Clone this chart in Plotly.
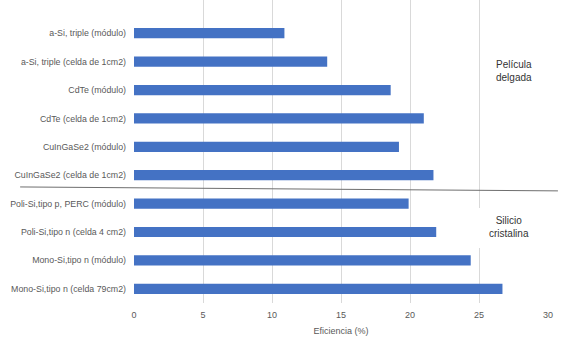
import plotly.graph_objects as go

categories = [
    "Mono-Si,tipo n (celda 79cm2)",
    "Mono-Si,tipo n (módulo)",
    "Poli-Si,tipo n (celda 4 cm2)",
    "Poli-Si,tipo p, PERC (módulo)",
    "CuInGaSe2 (celda de 1cm2)",
    "CuInGaSe2 (módulo)",
    "CdTe (celda de 1cm2)",
    "CdTe (módulo)",
    "a-Si, triple (celda de 1cm2)",
    "a-Si, triple (módulo)",
]
efficiency = [26.7, 24.4, 21.9, 19.9, 21.7, 19.2, 21.0, 18.6, 14.0, 10.9]
x_ticks = [0, 5, 10, 15, 20, 25, 30]

FONT = "Liberation Sans"
GREY = "#595959"

fig = go.Figure()
fig.add_trace(go.Bar(
    y=categories, x=efficiency, orientation="h",
    marker=dict(color="#4472C4", line=dict(width=0)),
    width=0.36, hoverinfo="skip",
))

fig.update_layout(
    width=578, height=338,
    margin=dict(l=134, r=30, t=0, b=35),
    paper_bgcolor="white", plot_bgcolor="white",
    showlegend=False,
    font=dict(family=FONT, size=9, color=GREY),
    xaxis=dict(
        range=[0, 30], tickvals=x_ticks, showgrid=True, automargin=False,
        gridcolor="#d9d9d9", gridwidth=1, zeroline=False,
        showline=False, ticks="", tickfont=dict(size=9, color=GREY),
        ticklabelstandoff=5,
        title=dict(text="Eficiencia (%)", font=dict(size=9, color=GREY), standoff=8),
    ),
    yaxis=dict(
        type="category", range=[-0.5, 10.17], showgrid=False, automargin=False,
        zeroline=False, showline=False, ticks="", ticklabelstandoff=7,
        tickfont=dict(size=8.8, color=GREY),
    ),
)

# separator line between groups
fig.add_shape(type="line", xref="paper", yref="paper",
              x0=-0.275, y0=0.383, x1=1.024, y1=0.370,
              line=dict(color="#6e6e6e", width=1))

# group labels
fig.add_shape(type="rect", xref="paper", yref="paper",
              x0=(474 - 134) / 414, x1=(545 - 134) / 414,
              y0=(303 - 248) / 303, y1=(303 - 208) / 303,
              fillcolor="white", line=dict(width=0), layer="above")
fig.add_annotation(text="Película<br>delgada", xref="paper", yref="paper",
                   x=(514 - 134) / 414, y=(303 - 71) / 303, showarrow=False,
                   xanchor="center", yanchor="middle",
                   font=dict(size=10, color="#333333", family=FONT))
fig.add_annotation(text="Silicio<br>cristalina", xref="paper", yref="paper",
                   x=(509 - 134) / 414, y=(303 - 227) / 303, showarrow=False,
                   xanchor="center", yanchor="middle",
                   font=dict(size=10, color="#333333", family=FONT))

fig.write_html("out.html", config={"displayModeBar": False, "staticPlot": True},
               post_script="document.body.style.margin='0';document.body.style.overflow='hidden';")
